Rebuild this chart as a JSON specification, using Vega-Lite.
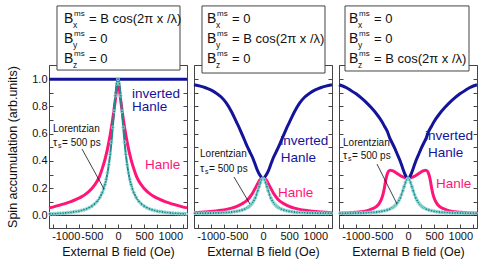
{
"$schema":"https://vega.github.io/schema/vega-lite/v6.json",
"padding":{"left":6,"top":4,"right":0,"bottom":2},
"bounds":"flush",
"spacing":7,
"config":{"font":"Liberation Sans","view":{"stroke":"#444","strokeWidth":1},
"axis":{"domainColor":"#444","tickColor":"#444","labelColor":"#111","titleColor":"#111","labelFontSize":11,"titleFontSize":12.5,"titleFontWeight":"normal","grid":false,"labelFont":"Liberation Sans","titleFont":"Liberation Sans"},
"text":{"font":"Liberation Sans"}},
"datasets":{
"inv1":[{"b":-1320,"v":1},{"b":1320,"v":1}],
"han1":[{"b":-1320,"v":0.055},{"b":-1200,"v":0.066},{"b":-1100,"v":0.077},{"b":-1000,"v":0.088},{"b":-900,"v":0.101},{"b":-800,"v":0.117},{"b":-700,"v":0.136},{"b":-600,"v":0.162},{"b":-500,"v":0.198},{"b":-450,"v":0.222},{"b":-400,"v":0.25},{"b":-350,"v":0.29},{"b":-300,"v":0.345},{"b":-250,"v":0.41},{"b":-200,"v":0.49},{"b":-150,"v":0.59},{"b":-100,"v":0.71},{"b":-75,"v":0.78},{"b":-50,"v":0.85},{"b":-25,"v":0.93},{"b":0,"v":1.0},{"b":25,"v":0.93},{"b":50,"v":0.85},{"b":75,"v":0.78},{"b":100,"v":0.71},{"b":150,"v":0.59},{"b":200,"v":0.49},{"b":250,"v":0.41},{"b":300,"v":0.345},{"b":350,"v":0.29},{"b":400,"v":0.25},{"b":450,"v":0.222},{"b":500,"v":0.198},{"b":600,"v":0.162},{"b":700,"v":0.136},{"b":800,"v":0.117},{"b":900,"v":0.101},{"b":1000,"v":0.088},{"b":1100,"v":0.077},{"b":1200,"v":0.066},{"b":1320,"v":0.055}],
"lor1":[{"b":-1300,"v":0.011},{"b":-1250,"v":0.011},{"b":-1200,"v":0.012},{"b":-1150,"v":0.014},{"b":-1100,"v":0.015},{"b":-1050,"v":0.016},{"b":-1000,"v":0.018},{"b":-950,"v":0.02},{"b":-900,"v":0.022},{"b":-850,"v":0.025},{"b":-800,"v":0.028},{"b":-750,"v":0.031},{"b":-700,"v":0.036},{"b":-650,"v":0.041},{"b":-600,"v":0.048},{"b":-550,"v":0.057},{"b":-500,"v":0.068},{"b":-450,"v":0.083},{"b":-400,"v":0.102},{"b":-350,"v":0.13},{"b":-300,"v":0.168},{"b":-275,"v":0.194},{"b":-250,"v":0.226},{"b":-225,"v":0.265},{"b":-200,"v":0.313},{"b":-175,"v":0.373},{"b":-150,"v":0.448},{"b":-125,"v":0.538},{"b":-100,"v":0.646},{"b":-75,"v":0.764},{"b":-50,"v":0.879},{"b":-25,"v":0.967},{"b":0,"v":1.0},{"b":25,"v":0.967},{"b":50,"v":0.879},{"b":75,"v":0.764},{"b":100,"v":0.646},{"b":125,"v":0.538},{"b":150,"v":0.448},{"b":175,"v":0.373},{"b":200,"v":0.313},{"b":225,"v":0.265},{"b":250,"v":0.226},{"b":275,"v":0.194},{"b":300,"v":0.168},{"b":350,"v":0.13},{"b":400,"v":0.102},{"b":450,"v":0.083},{"b":500,"v":0.068},{"b":550,"v":0.057},{"b":600,"v":0.048},{"b":650,"v":0.041},{"b":700,"v":0.036},{"b":750,"v":0.031},{"b":800,"v":0.028},{"b":850,"v":0.025},{"b":900,"v":0.022},{"b":950,"v":0.02},{"b":1000,"v":0.018},{"b":1050,"v":0.016},{"b":1100,"v":0.015},{"b":1150,"v":0.014},{"b":1200,"v":0.012},{"b":1250,"v":0.011},{"b":1300,"v":0.011}],
"lor23":[{"b":-1300,"v":0.015},{"b":-1250,"v":0.015},{"b":-1200,"v":0.015},{"b":-1150,"v":0.016},{"b":-1100,"v":0.016},{"b":-1050,"v":0.016},{"b":-1000,"v":0.017},{"b":-950,"v":0.017},{"b":-900,"v":0.018},{"b":-850,"v":0.018},{"b":-800,"v":0.019},{"b":-750,"v":0.02},{"b":-700,"v":0.021},{"b":-650,"v":0.023},{"b":-600,"v":0.024},{"b":-550,"v":0.027},{"b":-500,"v":0.03},{"b":-450,"v":0.034},{"b":-400,"v":0.039},{"b":-350,"v":0.046},{"b":-300,"v":0.056},{"b":-275,"v":0.062},{"b":-250,"v":0.071},{"b":-225,"v":0.081},{"b":-200,"v":0.093},{"b":-175,"v":0.109},{"b":-150,"v":0.128},{"b":-125,"v":0.152},{"b":-100,"v":0.18},{"b":-75,"v":0.211},{"b":-50,"v":0.241},{"b":-25,"v":0.263},{"b":0,"v":0.272},{"b":25,"v":0.263},{"b":50,"v":0.241},{"b":75,"v":0.211},{"b":100,"v":0.18},{"b":125,"v":0.152},{"b":150,"v":0.128},{"b":175,"v":0.109},{"b":200,"v":0.093},{"b":225,"v":0.081},{"b":250,"v":0.071},{"b":275,"v":0.062},{"b":300,"v":0.056},{"b":350,"v":0.046},{"b":400,"v":0.039},{"b":450,"v":0.034},{"b":500,"v":0.03},{"b":550,"v":0.027},{"b":600,"v":0.024},{"b":650,"v":0.023},{"b":700,"v":0.021},{"b":750,"v":0.02},{"b":800,"v":0.019},{"b":850,"v":0.018},{"b":900,"v":0.018},{"b":950,"v":0.017},{"b":1000,"v":0.017},{"b":1050,"v":0.016},{"b":1100,"v":0.016},{"b":1150,"v":0.016},{"b":1200,"v":0.015},{"b":1250,"v":0.015},{"b":1300,"v":0.015}],
"inv2":[{"b":-1320,"v":0.96},{"b":-1200,"v":0.95},{"b":-1100,"v":0.938},{"b":-1000,"v":0.922},{"b":-900,"v":0.9},{"b":-800,"v":0.87},{"b":-700,"v":0.825},{"b":-600,"v":0.76},{"b":-500,"v":0.68},{"b":-450,"v":0.64},{"b":-400,"v":0.595},{"b":-350,"v":0.55},{"b":-300,"v":0.505},{"b":-250,"v":0.465},{"b":-200,"v":0.425},{"b":-150,"v":0.375},{"b":-100,"v":0.325},{"b":-50,"v":0.29},{"b":0,"v":0.27},{"b":50,"v":0.29},{"b":100,"v":0.325},{"b":150,"v":0.375},{"b":200,"v":0.425},{"b":250,"v":0.465},{"b":300,"v":0.505},{"b":350,"v":0.55},{"b":400,"v":0.595},{"b":450,"v":0.64},{"b":500,"v":0.68},{"b":600,"v":0.76},{"b":700,"v":0.825},{"b":800,"v":0.87},{"b":900,"v":0.9},{"b":1000,"v":0.922},{"b":1100,"v":0.938},{"b":1200,"v":0.95},{"b":1320,"v":0.96}],
"han2":[{"b":-1320,"v":0.02},{"b":-1200,"v":0.022},{"b":-1100,"v":0.025},{"b":-1000,"v":0.028},{"b":-900,"v":0.032},{"b":-800,"v":0.037},{"b":-700,"v":0.044},{"b":-600,"v":0.053},{"b":-500,"v":0.066},{"b":-400,"v":0.085},{"b":-350,"v":0.097},{"b":-300,"v":0.113},{"b":-250,"v":0.135},{"b":-200,"v":0.163},{"b":-150,"v":0.198},{"b":-100,"v":0.235},{"b":-50,"v":0.265},{"b":0,"v":0.275},{"b":50,"v":0.265},{"b":100,"v":0.235},{"b":150,"v":0.198},{"b":200,"v":0.163},{"b":250,"v":0.135},{"b":300,"v":0.113},{"b":350,"v":0.097},{"b":400,"v":0.085},{"b":500,"v":0.066},{"b":600,"v":0.053},{"b":700,"v":0.044},{"b":800,"v":0.037},{"b":900,"v":0.032},{"b":1000,"v":0.028},{"b":1100,"v":0.025},{"b":1200,"v":0.022},{"b":1320,"v":0.02}],
"inv3":[{"b":-1320,"v":0.96},{"b":-1200,"v":0.942},{"b":-1100,"v":0.92},{"b":-1000,"v":0.895},{"b":-900,"v":0.865},{"b":-800,"v":0.83},{"b":-700,"v":0.79},{"b":-600,"v":0.745},{"b":-500,"v":0.69},{"b":-450,"v":0.655},{"b":-400,"v":0.62},{"b":-350,"v":0.57},{"b":-300,"v":0.53},{"b":-250,"v":0.49},{"b":-200,"v":0.445},{"b":-150,"v":0.4},{"b":-100,"v":0.345},{"b":-50,"v":0.295},{"b":0,"v":0.27},{"b":50,"v":0.295},{"b":100,"v":0.345},{"b":150,"v":0.4},{"b":200,"v":0.445},{"b":250,"v":0.49},{"b":300,"v":0.53},{"b":350,"v":0.57},{"b":400,"v":0.62},{"b":450,"v":0.655},{"b":500,"v":0.69},{"b":600,"v":0.745},{"b":700,"v":0.79},{"b":800,"v":0.83},{"b":900,"v":0.865},{"b":1000,"v":0.895},{"b":1100,"v":0.92},{"b":1200,"v":0.942},{"b":1320,"v":0.96}],
"han3":[{"b":-1320,"v":0.016},{"b":-1200,"v":0.017},{"b":-1100,"v":0.019},{"b":-1000,"v":0.022},{"b":-900,"v":0.026},{"b":-800,"v":0.033},{"b":-700,"v":0.046},{"b":-600,"v":0.066},{"b":-550,"v":0.088},{"b":-500,"v":0.128},{"b":-475,"v":0.16},{"b":-450,"v":0.205},{"b":-425,"v":0.262},{"b":-400,"v":0.3},{"b":-370,"v":0.325},{"b":-340,"v":0.332},{"b":-300,"v":0.328},{"b":-250,"v":0.318},{"b":-200,"v":0.305},{"b":-150,"v":0.293},{"b":-100,"v":0.283},{"b":-50,"v":0.277},{"b":0,"v":0.275},{"b":50,"v":0.277},{"b":100,"v":0.283},{"b":150,"v":0.293},{"b":200,"v":0.305},{"b":250,"v":0.318},{"b":300,"v":0.328},{"b":340,"v":0.332},{"b":370,"v":0.325},{"b":400,"v":0.3},{"b":425,"v":0.262},{"b":450,"v":0.205},{"b":475,"v":0.16},{"b":500,"v":0.128},{"b":550,"v":0.088},{"b":600,"v":0.066},{"b":700,"v":0.046},{"b":800,"v":0.033},{"b":900,"v":0.026},{"b":1000,"v":0.022},{"b":1100,"v":0.019},{"b":1200,"v":0.017},{"b":1320,"v":0.016}],
"ann":[
{"p":1,"k":"box","b":-1167,"b2":1186,"v":1.068,"v2":1.539},
{"p":1,"k":"eq","b":-1033,"v":1.445,"sub":"x","eq":"= B cos(2π x /λ)"},
{"p":1,"k":"eq","b":-1033,"v":1.298,"sub":"y","eq":"= 0"},
{"p":1,"k":"eq","b":-1033,"v":1.151,"sub":"z","eq":"= 0"},
{"p":1,"k":"blue","b":268,"v":0.892,"t":"inverted"},
{"p":1,"k":"blue","b":268,"v":0.796,"t":"Hanle"},
{"p":1,"k":"pink","b":517,"v":0.37,"t":"Hanle"},
{"p":1,"k":"lor","b":-1243,"v":0.635,"t":"Lorentzian"},
{"p":1,"k":"tau","b":-1243,"v":0.532,"t":"= 500 ps"},
{"p":1,"k":"ptr","b":-689,"v":0.488,"b2":-268,"v2":0.194},
{"p":2,"k":"box","b":-1167,"b2":1186,"v":1.046,"v2":1.539},
{"p":2,"k":"eq","b":-1071,"v":1.445,"sub":"x","eq":"= 0"},
{"p":2,"k":"eq","b":-1071,"v":1.298,"sub":"y","eq":"= B cos(2π x /λ)"},
{"p":2,"k":"eq","b":-1071,"v":1.151,"sub":"z","eq":"= 0"},
{"p":2,"k":"blue","b":330,"v":0.546,"t":"inverted"},
{"p":2,"k":"blue","b":340,"v":0.421,"t":"Hanle"},
{"p":2,"k":"pink","b":287,"v":0.164,"t":"Hanle"},
{"p":2,"k":"lor","b":-1205,"v":0.451,"t":"Lorentzian"},
{"p":2,"k":"tau","b":-1205,"v":0.341,"t":"= 500 ps"},
{"p":2,"k":"ptr","b":-555,"v":0.282,"b2":-249,"v2":0.083},
{"p":3,"k":"box","b":-1205,"b2":1167,"v":1.061,"v2":1.539},
{"p":3,"k":"eq","b":-1129,"v":1.445,"sub":"x","eq":"= 0"},
{"p":3,"k":"eq","b":-1129,"v":1.298,"sub":"y","eq":"= 0"},
{"p":3,"k":"eq","b":-1129,"v":1.151,"sub":"z","eq":"= B cos(2π x /λ)"},
{"p":3,"k":"blue","b":325,"v":0.583,"t":"inverted"},
{"p":3,"k":"blue","b":383,"v":0.458,"t":"Hanle"},
{"p":3,"k":"pink","b":536,"v":0.23,"t":"Hanle"},
{"p":3,"k":"lor","b":-1243,"v":0.532,"t":"Lorentzian"},
{"p":3,"k":"tau","b":-1243,"v":0.436,"t":"= 500 ps"},
{"p":3,"k":"ptr","b":-593,"v":0.377,"b2":-210,"v2":0.083}
]},
"hconcat":[
{"width":138,"height":163,
"layer":[
{"data":{"values":[{}]},"mark":{"type":"rule","color":"#111","strokeWidth":1},"encoding":{"y":{"datum":0,"type":"quantitative","scale":{"domain":[-0.093,1.105],"nice":false,"zero":false},"axis":{"orient":"right","values":[0,0.1,0.2,0.3,0.4,0.5,0.6,0.7,0.8,0.9,1],"labels":false,"title":null,"tickSize":-4}}}},
{"encoding":{
"x":{"field":"b","type":"quantitative","scale":{"domain":[-1320,1320],"nice":false,"zero":false},"axis":{"values":[-1250,-1000,-750,-500,-250,0,250,500,750,1000,1250],"labelExpr":"datum.value % 500 == 0 ? '' + datum.value : ''","tickSize":-4,"labelPadding":6,"labelOverlap":false,"labelBound":false,"labelFlush":false,"title":"External B field (Oe)","titlePadding":4}},
"y":{"field":"v","type":"quantitative","scale":{"domain":[-0.093,1.105],"nice":false,"zero":false},"axis":{"values":[0,0.1,0.2,0.3,0.4,0.5,0.6,0.7,0.8,0.9,1],"labelExpr":"round(datum.value*10) % 2 == 0 ? format(datum.value, '.1f') : ''","tickSize":-4,"labelPadding":6,"labelOverlap":false,"title":"Spin accumulation (arb.units)","titlePadding":12}}},
"layer":[
{"data":{"name":"han1"},"mark":{"type":"line","color":"#ff1478","strokeWidth":3,"interpolate":"monotone"}},
{"data":{"name":"inv1"},"mark":{"type":"line","color":"#14149a","strokeWidth":3}},
{"data":{"name":"lor1"},"mark":{"type":"line","color":"#1e8c8c","strokeWidth":2,"interpolate":"monotone"}},
{"data":{"name":"lor1"},"mark":{"type":"point","shape":"circle","size":9,"filled":false,"color":"#8ad4d4","strokeWidth":1,"opacity":1}},
{"data":{"name":"ann"},"transform":[{"filter":"datum.p==1 && datum.k=='ptr'"}],"mark":{"type":"rule","color":"#111","strokeWidth":0.8},"encoding":{"x2":{"field":"b2"},"y2":{"field":"v2"}}},
{"data":{"name":"ann"},"transform":[{"filter":"datum.p==1 && datum.k=='blue'"}],"mark":{"type":"text","align":"left","baseline":"middle","fontSize":13.5,"color":"#14149a"},"encoding":{"text":{"field":"t"}}},
{"data":{"name":"ann"},"transform":[{"filter":"datum.p==1 && datum.k=='pink'"}],"mark":{"type":"text","align":"left","baseline":"middle","fontSize":13.5,"color":"#ff1478"},"encoding":{"text":{"field":"t"}}},
{"data":{"name":"ann"},"transform":[{"filter":"datum.p==1 && datum.k=='lor'"}],"mark":{"type":"text","align":"left","baseline":"middle","fontSize":10,"color":"#111"},"encoding":{"text":{"field":"t"}}},
{"data":{"name":"ann"},"transform":[{"filter":"datum.p==1 && datum.k=='tau'"}],"mark":{"type":"text","align":"left","baseline":"middle","fontSize":10.5,"color":"#111"},"encoding":{"text":{"value":"τ"}}},
{"data":{"name":"ann"},"transform":[{"filter":"datum.p==1 && datum.k=='tau'"}],"mark":{"type":"text","align":"left","baseline":"middle","fontSize":7,"dx":5,"dy":3,"color":"#111"},"encoding":{"text":{"value":"s"}}},
{"data":{"name":"ann"},"transform":[{"filter":"datum.p==1 && datum.k=='tau'"}],"mark":{"type":"text","align":"left","baseline":"middle","fontSize":10,"dx":9,"color":"#111"},"encoding":{"text":{"field":"t"}}},
{"data":{"name":"ann"},"transform":[{"filter":"datum.p==1 && datum.k=='box'"}],"mark":{"type":"rect","fill":"white","stroke":"#444","strokeWidth":1},"encoding":{"x2":{"field":"b2"},"y2":{"field":"v2"}}},
{"data":{"name":"ann"},"transform":[{"filter":"datum.p==1 && datum.k=='eq'"}],"mark":{"type":"text","align":"left","baseline":"middle","fontSize":14,"color":"#111"},"encoding":{"text":{"value":"B"}}},
{"data":{"name":"ann"},"transform":[{"filter":"datum.p==1 && datum.k=='eq'"}],"mark":{"type":"text","align":"left","baseline":"middle","fontSize":8.5,"dx":9,"dy":6,"color":"#111"},"encoding":{"text":{"field":"sub"}}},
{"data":{"name":"ann"},"transform":[{"filter":"datum.p==1 && datum.k=='eq'"}],"mark":{"type":"text","align":"left","baseline":"middle","fontSize":8,"dx":10,"dy":-5,"color":"#111"},"encoding":{"text":{"value":"ms"}}},
{"data":{"name":"ann"},"transform":[{"filter":"datum.p==1 && datum.k=='eq'"}],"mark":{"type":"text","align":"left","baseline":"middle","fontSize":13,"dx":25,"color":"#111"},"encoding":{"text":{"field":"eq"}}}
]}
],
"resolve":{"scale":{"y":"independent"},"axis":{"y":"independent"}}},
{"width":138,"height":163,
"layer":[
{"data":{"values":[{}]},"mark":{"type":"rule","color":"#111","strokeWidth":1},"encoding":{"y":{"datum":0,"type":"quantitative","scale":{"domain":[-0.093,1.105],"nice":false,"zero":false},"axis":{"orient":"right","values":[0,0.1,0.2,0.3,0.4,0.5,0.6,0.7,0.8,0.9,1],"labels":false,"title":null,"tickSize":-4}}}},
{"encoding":{
"x":{"field":"b","type":"quantitative","scale":{"domain":[-1320,1320],"nice":false,"zero":false},"axis":{"values":[-1250,-1000,-750,-500,-250,0,250,500,750,1000,1250],"labelExpr":"datum.value % 500 == 0 ? '' + datum.value : ''","tickSize":-4,"labelPadding":6,"labelOverlap":false,"labelBound":false,"labelFlush":false,"title":"External B field (Oe)","titlePadding":4}},
"y":{"field":"v","type":"quantitative","scale":{"domain":[-0.093,1.105],"nice":false,"zero":false},"axis":{"values":[0,0.1,0.2,0.3,0.4,0.5,0.6,0.7,0.8,0.9,1],"labels":false,"title":null,"tickSize":-4}}},
"layer":[
{"data":{"name":"han2"},"mark":{"type":"line","color":"#ff1478","strokeWidth":3,"interpolate":"monotone"}},
{"data":{"name":"inv2"},"mark":{"type":"line","color":"#14149a","strokeWidth":3,"interpolate":"monotone"}},
{"data":{"name":"lor23"},"mark":{"type":"line","color":"#1e8c8c","strokeWidth":2,"interpolate":"monotone"}},
{"data":{"name":"lor23"},"mark":{"type":"point","shape":"circle","size":9,"filled":false,"color":"#8ad4d4","strokeWidth":1,"opacity":1}},
{"data":{"name":"ann"},"transform":[{"filter":"datum.p==2 && datum.k=='ptr'"}],"mark":{"type":"rule","color":"#111","strokeWidth":0.8},"encoding":{"x2":{"field":"b2"},"y2":{"field":"v2"}}},
{"data":{"name":"ann"},"transform":[{"filter":"datum.p==2 && datum.k=='blue'"}],"mark":{"type":"text","align":"left","baseline":"middle","fontSize":13.5,"color":"#14149a"},"encoding":{"text":{"field":"t"}}},
{"data":{"name":"ann"},"transform":[{"filter":"datum.p==2 && datum.k=='pink'"}],"mark":{"type":"text","align":"left","baseline":"middle","fontSize":13.5,"color":"#ff1478"},"encoding":{"text":{"field":"t"}}},
{"data":{"name":"ann"},"transform":[{"filter":"datum.p==2 && datum.k=='lor'"}],"mark":{"type":"text","align":"left","baseline":"middle","fontSize":10,"color":"#111"},"encoding":{"text":{"field":"t"}}},
{"data":{"name":"ann"},"transform":[{"filter":"datum.p==2 && datum.k=='tau'"}],"mark":{"type":"text","align":"left","baseline":"middle","fontSize":10.5,"color":"#111"},"encoding":{"text":{"value":"τ"}}},
{"data":{"name":"ann"},"transform":[{"filter":"datum.p==2 && datum.k=='tau'"}],"mark":{"type":"text","align":"left","baseline":"middle","fontSize":7,"dx":5,"dy":3,"color":"#111"},"encoding":{"text":{"value":"s"}}},
{"data":{"name":"ann"},"transform":[{"filter":"datum.p==2 && datum.k=='tau'"}],"mark":{"type":"text","align":"left","baseline":"middle","fontSize":10,"dx":9,"color":"#111"},"encoding":{"text":{"field":"t"}}},
{"data":{"name":"ann"},"transform":[{"filter":"datum.p==2 && datum.k=='box'"}],"mark":{"type":"rect","fill":"white","stroke":"#444","strokeWidth":1},"encoding":{"x2":{"field":"b2"},"y2":{"field":"v2"}}},
{"data":{"name":"ann"},"transform":[{"filter":"datum.p==2 && datum.k=='eq'"}],"mark":{"type":"text","align":"left","baseline":"middle","fontSize":14,"color":"#111"},"encoding":{"text":{"value":"B"}}},
{"data":{"name":"ann"},"transform":[{"filter":"datum.p==2 && datum.k=='eq'"}],"mark":{"type":"text","align":"left","baseline":"middle","fontSize":8.5,"dx":9,"dy":6,"color":"#111"},"encoding":{"text":{"field":"sub"}}},
{"data":{"name":"ann"},"transform":[{"filter":"datum.p==2 && datum.k=='eq'"}],"mark":{"type":"text","align":"left","baseline":"middle","fontSize":8,"dx":10,"dy":-5,"color":"#111"},"encoding":{"text":{"value":"ms"}}},
{"data":{"name":"ann"},"transform":[{"filter":"datum.p==2 && datum.k=='eq'"}],"mark":{"type":"text","align":"left","baseline":"middle","fontSize":13,"dx":25,"color":"#111"},"encoding":{"text":{"field":"eq"}}}
]}
],
"resolve":{"scale":{"y":"independent"},"axis":{"y":"independent"}}},
{"width":138,"height":163,
"layer":[
{"data":{"values":[{}]},"mark":{"type":"rule","color":"#111","strokeWidth":1},"encoding":{"y":{"datum":0,"type":"quantitative","scale":{"domain":[-0.093,1.105],"nice":false,"zero":false},"axis":{"orient":"right","values":[0,0.1,0.2,0.3,0.4,0.5,0.6,0.7,0.8,0.9,1],"labels":false,"title":null,"tickSize":-4}}}},
{"encoding":{
"x":{"field":"b","type":"quantitative","scale":{"domain":[-1320,1320],"nice":false,"zero":false},"axis":{"values":[-1250,-1000,-750,-500,-250,0,250,500,750,1000,1250],"labelExpr":"datum.value % 500 == 0 ? '' + datum.value : ''","tickSize":-4,"labelPadding":6,"labelOverlap":false,"labelBound":false,"labelFlush":false,"title":"External B field (Oe)","titlePadding":4}},
"y":{"field":"v","type":"quantitative","scale":{"domain":[-0.093,1.105],"nice":false,"zero":false},"axis":{"values":[0,0.1,0.2,0.3,0.4,0.5,0.6,0.7,0.8,0.9,1],"labels":false,"title":null,"tickSize":-4}}},
"layer":[
{"data":{"name":"han3"},"mark":{"type":"line","color":"#ff1478","strokeWidth":3,"interpolate":"monotone"}},
{"data":{"name":"inv3"},"mark":{"type":"line","color":"#14149a","strokeWidth":3,"interpolate":"monotone"}},
{"data":{"name":"lor23"},"mark":{"type":"line","color":"#1e8c8c","strokeWidth":2,"interpolate":"monotone"}},
{"data":{"name":"lor23"},"mark":{"type":"point","shape":"circle","size":9,"filled":false,"color":"#8ad4d4","strokeWidth":1,"opacity":1}},
{"data":{"name":"ann"},"transform":[{"filter":"datum.p==3 && datum.k=='ptr'"}],"mark":{"type":"rule","color":"#111","strokeWidth":0.8},"encoding":{"x2":{"field":"b2"},"y2":{"field":"v2"}}},
{"data":{"name":"ann"},"transform":[{"filter":"datum.p==3 && datum.k=='blue'"}],"mark":{"type":"text","align":"left","baseline":"middle","fontSize":13.5,"color":"#14149a"},"encoding":{"text":{"field":"t"}}},
{"data":{"name":"ann"},"transform":[{"filter":"datum.p==3 && datum.k=='pink'"}],"mark":{"type":"text","align":"left","baseline":"middle","fontSize":13.5,"color":"#ff1478"},"encoding":{"text":{"field":"t"}}},
{"data":{"name":"ann"},"transform":[{"filter":"datum.p==3 && datum.k=='lor'"}],"mark":{"type":"text","align":"left","baseline":"middle","fontSize":10,"color":"#111"},"encoding":{"text":{"field":"t"}}},
{"data":{"name":"ann"},"transform":[{"filter":"datum.p==3 && datum.k=='tau'"}],"mark":{"type":"text","align":"left","baseline":"middle","fontSize":10.5,"color":"#111"},"encoding":{"text":{"value":"τ"}}},
{"data":{"name":"ann"},"transform":[{"filter":"datum.p==3 && datum.k=='tau'"}],"mark":{"type":"text","align":"left","baseline":"middle","fontSize":7,"dx":5,"dy":3,"color":"#111"},"encoding":{"text":{"value":"s"}}},
{"data":{"name":"ann"},"transform":[{"filter":"datum.p==3 && datum.k=='tau'"}],"mark":{"type":"text","align":"left","baseline":"middle","fontSize":10,"dx":9,"color":"#111"},"encoding":{"text":{"field":"t"}}},
{"data":{"name":"ann"},"transform":[{"filter":"datum.p==3 && datum.k=='box'"}],"mark":{"type":"rect","fill":"white","stroke":"#444","strokeWidth":1},"encoding":{"x2":{"field":"b2"},"y2":{"field":"v2"}}},
{"data":{"name":"ann"},"transform":[{"filter":"datum.p==3 && datum.k=='eq'"}],"mark":{"type":"text","align":"left","baseline":"middle","fontSize":14,"color":"#111"},"encoding":{"text":{"value":"B"}}},
{"data":{"name":"ann"},"transform":[{"filter":"datum.p==3 && datum.k=='eq'"}],"mark":{"type":"text","align":"left","baseline":"middle","fontSize":8.5,"dx":9,"dy":6,"color":"#111"},"encoding":{"text":{"field":"sub"}}},
{"data":{"name":"ann"},"transform":[{"filter":"datum.p==3 && datum.k=='eq'"}],"mark":{"type":"text","align":"left","baseline":"middle","fontSize":8,"dx":10,"dy":-5,"color":"#111"},"encoding":{"text":{"value":"ms"}}},
{"data":{"name":"ann"},"transform":[{"filter":"datum.p==3 && datum.k=='eq'"}],"mark":{"type":"text","align":"left","baseline":"middle","fontSize":13,"dx":25,"color":"#111"},"encoding":{"text":{"field":"eq"}}}
]}
],
"resolve":{"scale":{"y":"independent"},"axis":{"y":"independent"}}}
]
}
